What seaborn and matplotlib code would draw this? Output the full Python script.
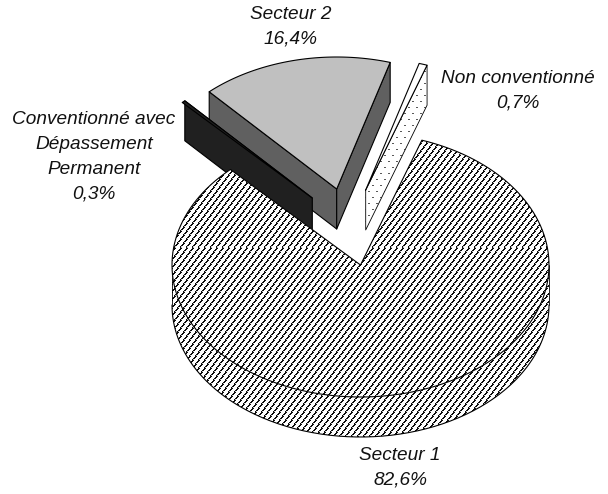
import numpy as np
import seaborn as sns
import matplotlib
matplotlib.use("Agg")
import matplotlib.pyplot as plt
from matplotlib.patches import Polygon

# ---- data ----
categories = ["Secteur 1", "Conventionné avec\nDépassement\nPermanent", "Secteur 2", "Non conventionné"]
shares = [82.6, 0.3, 16.4, 0.7]
value_labels = ["82,6%", "0,3%", "16,4%", "0,7%"]

# ---- layout (pixels) ----
W, H = 608, 494
RX, RY, DEPTH = 188.5, 132.0, 40.0
START = 19.0
apexes = [(360.5, 265), (312.3, 198), (336.7, 189), (365.7, 190)]
label_pos = [(400, 467.5), (94, 157), (291, 26.5), (518, 91)]
top_colors = ["white", "#202020", "#C0C0C0", "white"]
wall_colors = ["white", "#202020", "#606060", "white"]
LW = 0.8

sns.set_theme(style="white")
plt.rcParams["font.family"] = ["Liberation Sans", "DejaVu Sans"]

fig = plt.figure(figsize=(W / 100, H / 100), dpi=100)
ax = fig.add_axes([0, 0, 1, 1])
ax.set_xlim(0, W)
ax.set_ylim(H, 0)
ax.axis("off")

# pixel fill tiles: broken upward diagonals and sparse dashes
diag = np.ones((8, 6))
for r in range(8):
    c0 = int((8 - r) * 0.75) % 6
    diag[r, c0] = 0.05
    diag[r, (c0 + 1) % 6] = 0.05 if r % 4 != 3 else 0.75
dots = np.ones((12, 8))
dots[0, 0:2] = 0.35
dots[6, 4:6] = 0.35


def tile_fill(tile, poly, z):
    ny = H // tile.shape[0] + 1
    nx = W // tile.shape[1] + 1
    im = ax.imshow(np.tile(tile, (ny, nx)), cmap="gray", vmin=0, vmax=1,
                   extent=(0, tile.shape[1] * nx, tile.shape[0] * ny, 0),
                   interpolation="nearest", zorder=z, aspect="auto")
    im.set_clip_path(poly)


def pt(apex, a, dy=0.0):
    r = np.radians(a)
    return np.column_stack([apex[0] + RX * np.sin(r), apex[1] - RY * np.cos(r) + dy])


def add(points, fc, z, edge=True):
    p = Polygon(points, closed=True, facecolor=fc, edgecolor="black" if edge else "none",
                linewidth=LW, zorder=z, joinstyle="round")
    ax.add_patch(p)
    return p


def outline(points, z, lw=LW):
    p = np.asarray(points)
    ax.plot(p[:, 0], p[:, 1], color="black", lw=lw, zorder=z, solid_joinstyle="round")


bounds = START + np.concatenate([[0], np.cumsum(shares)]) * 360 / 100.0
order = [2, 3, 1, 0]
for k, i in enumerate(order):
    a0, a1 = bounds[i], bounds[i + 1]
    ap = np.array(apexes[i], float)
    z = 2 + k * 3
    arc = pt(ap, np.linspace(a0, a1, 300))
    top = np.vstack([[ap], arc])

    if i == 0:
        # front rim of the large slice
        front = np.linspace(90, 270, 200)
        rim = np.vstack([pt(ap, front), pt(ap, front[::-1], DEPTH)])
        p = add(rim, "white", z, edge=False)
        tile_fill(diag, p, z + 0.1)
        outline(np.vstack([pt(ap, front[::-1], DEPTH)]), z + 0.2)
        outline(pt(ap, [90.0, 90.0]) + [[0, 0], [0, DEPTH]], z + 0.2, 0.6)
        outline(pt(ap, [270.0, 270.0]) + [[0, 0], [0, DEPTH]], z + 0.2, 0.6)
        p = add(top, "white", z + 0.3, edge=False)
        tile_fill(diag, p, z + 0.4)
        outline(np.vstack([top, top[:1]]), z + 0.5)
    else:
        # walls exposed along the two straight cuts
        if i in (1, 2):
            left = pt(ap, [a1 if i == 1 else a0])[0]
            add([ap, left, left + [0, DEPTH], ap + [0, DEPTH]], wall_colors[i], z)
        if i == 2:
            right = pt(ap, [a1])[0]
            add([ap, right, right + [0, DEPTH], ap + [0, DEPTH]], wall_colors[i], z)
        if i == 3:
            right = pt(ap, [a1])[0]
            p = add([ap, right, right + [0, DEPTH], ap + [0, DEPTH]], "white", z, edge=False)
            tile_fill(dots, p, z + 0.1)
            outline([ap, right, right + [0, DEPTH], ap + [0, DEPTH], ap], z + 0.2, 0.6)
        add(top, top_colors[i], z + 0.5)

for name, val, (x, y) in zip(categories, value_labels, label_pos):
    ax.text(x, y, f"{name}\n{val}", ha="center", va="center", fontsize=13.7,
            fontstyle="italic", color="#111111", linespacing=1.6, zorder=30)

sns.despine(fig=fig, left=True, bottom=True)
fig.savefig("out.png", dpi=100)
